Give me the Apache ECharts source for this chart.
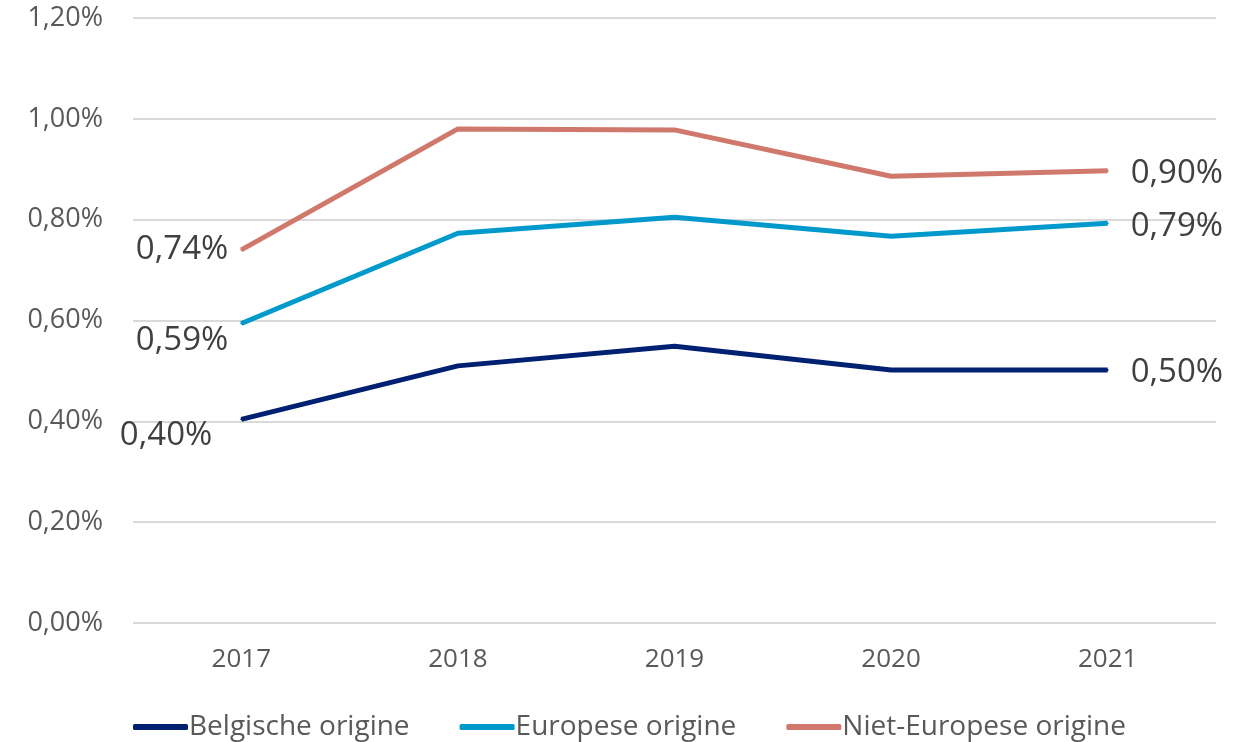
<!DOCTYPE html>
<html>
<head>
<meta charset="utf-8">
<script src="https://cdn.jsdelivr.net/npm/echarts@6/dist/echarts.min.js"></script>
<style>
  html, body { margin: 0; padding: 0; background: #fff; }
  #chart { width: 1234px; height: 742px; }
</style>
</head>
<body>
<div id="chart"></div>
<script>
var years = ['2017', '2018', '2019', '2020', '2021'];
var belgisch = [0.404, 0.510, 0.549, 0.502, 0.502];
var europees = [0.594, 0.773, 0.805, 0.767, 0.793];
var nietEuropees = [0.740, 0.980, 0.978, 0.886, 0.897];
var seriesNames = ['Belgische origine', 'Europese origine', 'Niet-Europese origine'];
var colors = ['#002072', '#0099CC', '#D0786C'];

function fmt(v) {
    return v.toFixed(2).replace('.', ',') + '%';
}

// only first and last point get a label
function withLabels(values, firstOffset) {
    return values.map(function (v, i) {
        var item = { value: v };
        if (i === 0) {
            item.label = { show: true, position: 'left', distance: 12, offset: firstOffset };
        } else if (i === values.length - 1) {
            item.label = { show: true, position: 'right', distance: 22, offset: [0, 3] };
        }
        return item;
    });
}

var myChart = echarts.init(document.getElementById('chart'));

var lineSeries = [belgisch, europees, nietEuropees].map(function (vals, k) {
    var offsets = [[-16, 16], [0, 17], [0, 0]];
    return {
        name: seriesNames[k],
        type: 'line',
        data: withLabels(vals, offsets[k]),
        symbol: 'circle',
        symbolSize: 2,
        showSymbol: true,
        lineStyle: { width: 5, color: colors[k] },
        itemStyle: { color: colors[k] },
        label: {
            show: false,
            fontFamily: 'Open Sans',
            fontSize: 33,
            color: '#404040',
            formatter: function (p) { return fmt(p.value); }
        }
    };
});

var option = {
    animation: false,
    textStyle: { fontFamily: 'Open Sans' },
    grid: {
        top: 18,
        left: 133,
        right: 18,
        bottom: 119
    },
    legend: {
        data: seriesNames,
        top: 708,
        left: 128,
        icon: 'roundRect',
        itemWidth: 55,
        itemHeight: 6,
        itemGap: 50,
        textStyle: { fontSize: 28, color: '#595959', padding: [0, 0, 0, -4] }
    },
    xAxis: {
        type: 'category',
        data: years,
        boundaryGap: true,
        axisLine: { show: false },
        axisTick: { show: false },
        axisLabel: { fontSize: 26, color: '#595959', margin: 24 }
    },
    yAxis: {
        type: 'value',
        min: 0,
        max: 1.2,
        interval: 0.2,
        axisLine: { show: false },
        axisTick: { show: false },
        splitLine: { lineStyle: { color: '#D9D9D9', width: 2 } },
        axisLabel: {
            fontSize: 27,
            color: '#595959',
            margin: 30,
            formatter: function (v) { return fmt(v); }
        }
    },
    series: lineSeries
};

myChart.setOption(option);
</script>
</body>
</html>
